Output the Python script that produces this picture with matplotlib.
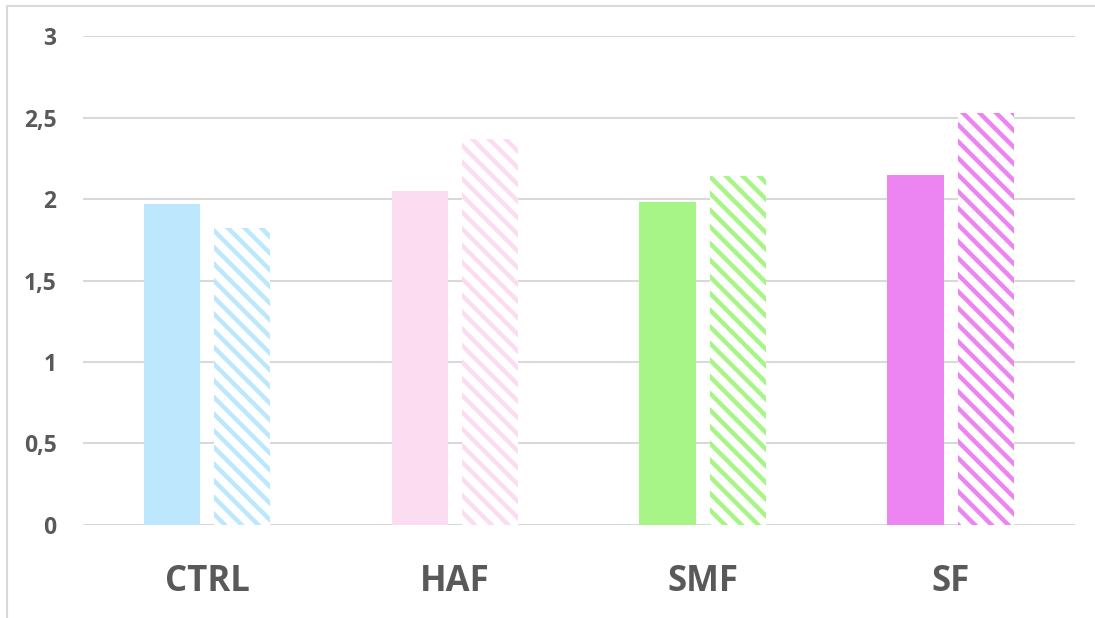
import numpy as np
import matplotlib
matplotlib.use("Agg")
import matplotlib.pyplot as plt
from matplotlib.patches import Rectangle

# mean values per group: plain bars and hatched bars
groups = ["CTRL", "HAF", "SMF", "SF"]
plain_vals = [1.97, 2.05, 1.98, 2.15]
hatched_vals = [1.82, 2.37, 2.14, 2.53]
group_colors = ["#BCE7FC", "#FCDCF0", "#A8F587", "#EC85F1"]
yticks = [0, 0.5, 1, 1.5, 2, 2.5, 3]

plt.rcParams["font.family"] = ["Open Sans", "DejaVu Sans"]
plt.rcParams["hatch.linewidth"] = 3.2

fig = plt.figure(figsize=(10.95, 6.18), dpi=100)
ax = fig.add_axes([0.0758, 0.1505, 0.9059, 0.7912])

x = np.arange(len(groups))
width = 0.226
off = 0.143

ax.bar(x - off, plain_vals, width, color=group_colors, linewidth=0, zorder=3)
for xi, v, c in zip(x, hatched_vals, group_colors):
    ax.bar(xi + off, v, width, facecolor="white", edgecolor=c,
           linewidth=0, hatch="\\\\", zorder=3)

ax.set_xlim(-0.5, len(groups) - 0.5)
ax.set_ylim(0, 3)
ax.set_yticks(yticks)
ax.set_yticklabels([("%g" % t).replace(".", ",") for t in yticks],
                   fontsize=16.5, fontweight="bold", color="#595959")
ax.tick_params(axis="y", length=0, pad=19)
ax.set_xticks(x)
ax.set_xticklabels(groups, fontsize=25, fontweight="bold", color="#595959")
ax.tick_params(axis="x", length=0, pad=28)
ax.grid(axis="y", color="#D9D9D9", linewidth=1.5, zorder=0)
ax.set_axisbelow(True)
for s in ax.spines.values():
    s.set_visible(False)

# chart frame (only top and left edges fall inside the image)
fig.patches.append(Rectangle((7 / 1095, -0.1), 1.2, 1 - 6 / 618 + 0.1,
                             transform=fig.transFigure, fill=False,
                             edgecolor="#D9D9D9", linewidth=1.5))

fig.savefig("out.png", dpi=100)
